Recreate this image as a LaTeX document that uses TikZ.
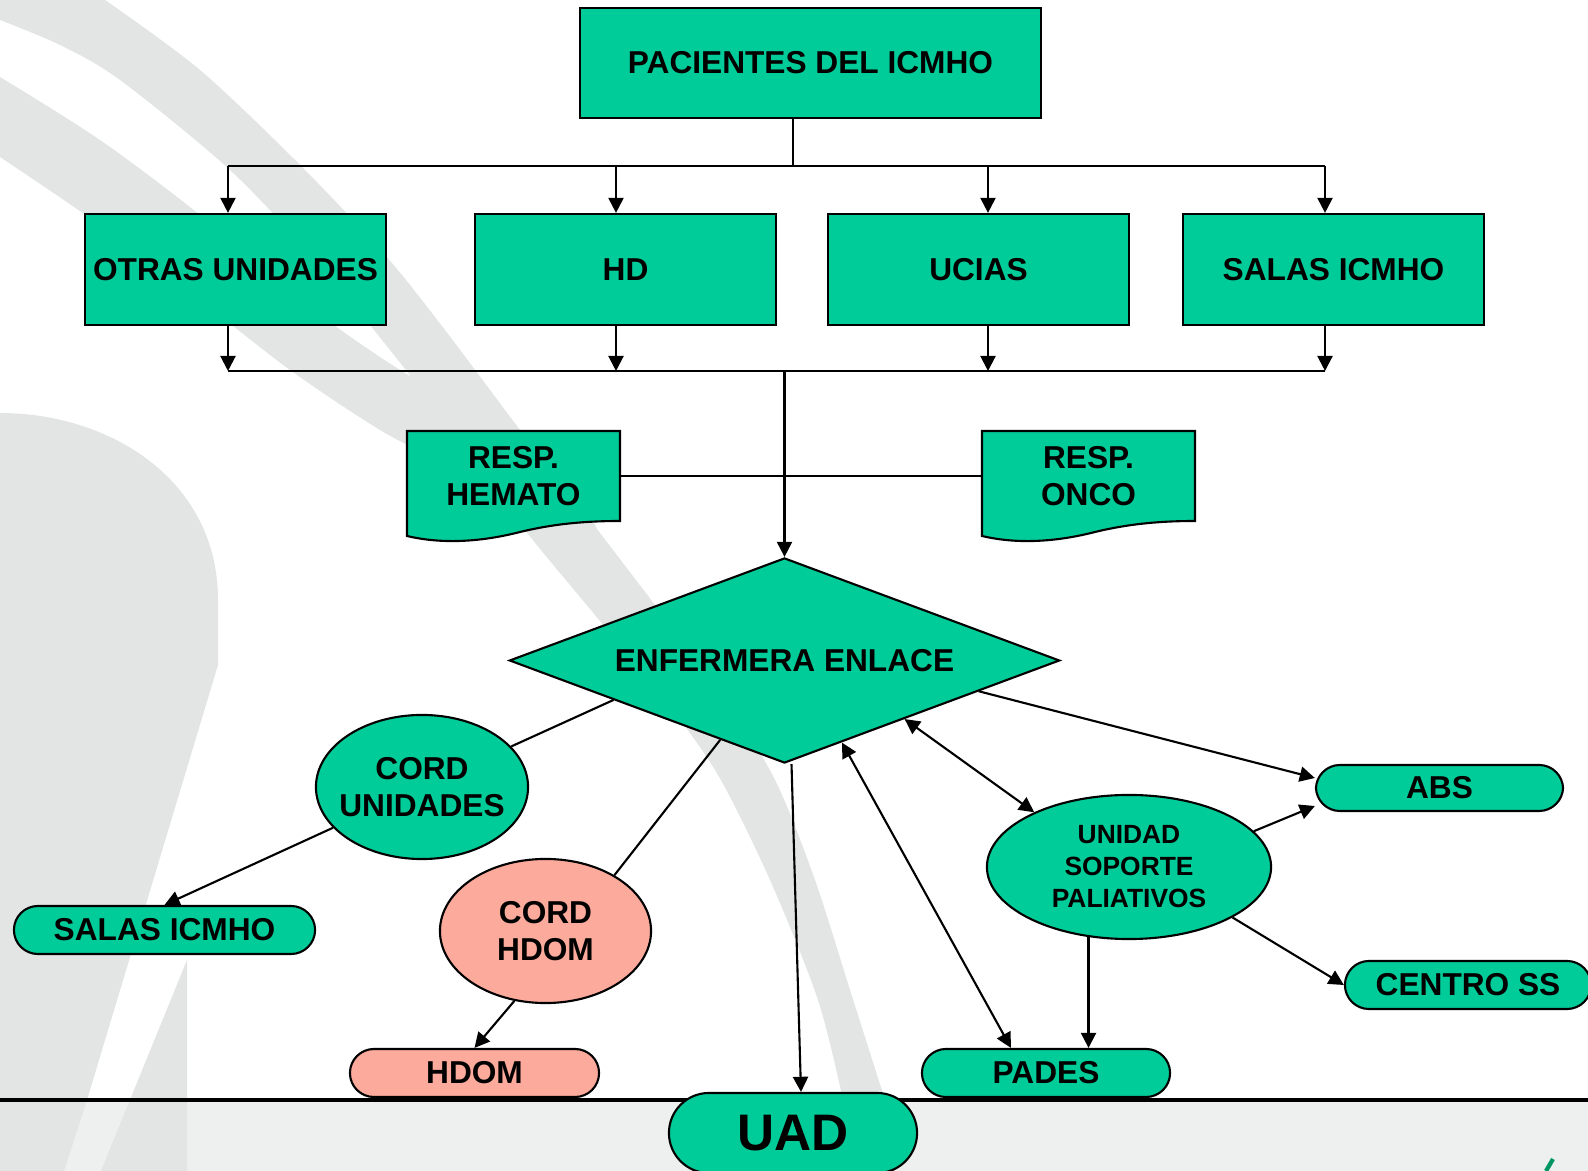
\documentclass[tikz,border=0pt]{standalone}
\usepackage{fontspec}
\setmainfont{Liberation Sans}
\usetikzlibrary{shapes.geometric,arrows.meta}

\definecolor{verde}{RGB}{0,204,153}
\definecolor{rosa}{RGB}{251,170,156}
\definecolor{gris}{RGB}{227,229,228}
\definecolor{franja}{RGB}{238,240,239}
\definecolor{logo}{RGB}{0,150,100}

\tikzset{
  letra/.style={font=\bfseries\fontsize{9}{10.7}\selectfont, align=center, inner sep=0pt},
  caja/.style={letra, draw, fill=verde, line width=0.6pt, minimum width=3.01cm, minimum height=1.11cm},
  pastilla/.style={letra, draw, fill=verde, line width=0.6pt, rounded corners=0.24cm, minimum height=0.48cm},
  elipse/.style={ellipse, draw, fill=verde, line width=0.6pt, inner sep=0pt, minimum height=1.44cm},
  linea/.style={line width=0.6pt},
  flecha/.style={linea, -{Triangle[length=4.3pt,width=4.3pt]}},
  doble/.style={linea, {Triangle[length=4.3pt,width=4.3pt]}-{Triangle[length=4.3pt,width=4.3pt]}},
}

\begin{document}
\begin{tikzpicture}[x=0.01cm, y=-0.01cm]
  \useasboundingbox (0,0) rectangle (1588,1171);
  \clip (0,0) rectangle (1588,1171);

  % Fondo
  \fill[white] (0,0) rectangle (1588,1171);
  \fill[franja] (0,1100) rectangle (1588,1171);
  \fill[gris] (0,0) -- plot[smooth] coordinates {(105,0) (200,70) (300,165) (385,255) (445,330) (520,430) (590,520) (655,605) (720,690) (775,780) (815,880) (850,990) (885,1100)}
    -- plot[smooth] coordinates {(843,1100) (818,1000) (770,880) (718,775) (665,700) (595,615) (525,530) (460,440) (390,350) (320,265) (230,170) (120,80) (60,45) (0,20)} -- cycle;
  \fill[gris] plot[smooth] coordinates {(0,77) (100,140) (200,215) (300,300) (400,370) (500,425) (580,500) (610,560)}
    -- plot[smooth] coordinates {(560,560) (470,480) (380,430) (290,370) (200,300) (100,225) (0,157)} -- cycle;
  \fill[gris] (0,413) .. controls (110,413) and (218,480) .. (218,600) -- (218,665) -- (87,1100) -- (64,1171) -- (0,1171) -- cycle;
  \fill[gris] (187,960) -- (187,1171) -- (101,1171) -- cycle;
  \draw[logo, line width=1.2pt] (1546,1171) -- (1553,1159);

  % Caja principal
  \node[caja, minimum width=4.61cm, minimum height=1.105cm] (pac) at (810.5,63) {PACIENTES DEL ICMHO};

  % Unidades
  \node[caja] (otras) at (235.5,269.5) {OTRAS UNIDADES};
  \node[caja] (hd) at (625.5,269.5) {HD};
  \node[caja] (ucias) at (978.5,269.5) {UCIAS};
  \node[caja] (salasa) at (1333.5,269.5) {SALAS ICMHO};

  % Ramas
  \coordinate (busa) at (793,166);
  \coordinate (busb) at (786,371);
  \draw[linea] (pac.south -| busa) -- (busa);
  \draw[linea] (228,166) -- (1325,166);
  \draw[linea] (228,371) -- (1325,371);
  \foreach \n/\x in {otras/228, hd/616, ucias/988, salasa/1325}{
    \draw[flecha] (\x,166) -- (\n.north -| \x,0);
    \draw[flecha] (\n.south -| \x,0) -- (\x,371);
  }

  % Enfermera enlace
  \node[diamond, draw, fill=verde, linea, aspect=2.68, minimum width=5.5cm, minimum height=2.05cm, letra] (enf) at (784.5,660.5) {ENFERMERA ENLACE};
  \draw[flecha] (enf.north |- busb) -- (enf.north);

  % Responsables
  \foreach \dx in {0,575}{
    \draw[linea, fill=verde, shift={(\dx,0)}] (407,431) -- (620,431) -- (620,521)
      .. controls (575,521) and (545,526) .. (520,532)
      .. controls (485,541) and (445,545) .. (407,536) -- cycle;
  }
  \node[letra, minimum width=2.13cm, minimum height=0.9cm] (hem) at (513.5,476) {RESP.\\HEMATO};
  \node[letra, minimum width=2.13cm, minimum height=0.9cm] (onc) at (1088.5,476) {RESP.\\ONCO};
  \draw[linea] (hem.east) -- (onc.west);

  % Coordinaciones
  \node[elipse, minimum width=2.12cm] (cordu) at (422,787) {};
  \node[letra] (cordu-t) at (cordu) {CORD\\UNIDADES};
  \node[elipse, fill=rosa, minimum width=2.11cm] (cordh) at (545.5,931) {};
  \node[letra] (cordh-t) at (cordh) {CORD\\HDOM};
  \node[elipse, minimum width=2.84cm] (usp) at (1129,867) {};
  \node[letra, font=\bfseries\fontsize{7.5}{9.1}\selectfont] (usp-t) at (usp) {UNIDAD\\SOPORTE\\PALIATIVOS};

  % Destinos
  \node[pastilla, minimum width=3.01cm] (salasb) at (164.5,930) {SALAS ICMHO};
  \node[pastilla, fill=rosa, minimum width=2.49cm] (hdom) at (474.5,1073) {HDOM};
  \node[pastilla, minimum width=2.48cm] (pades) at (1046,1073) {PADES};
  \node[pastilla, minimum width=2.47cm, minimum height=0.46cm] (abs) at (1439.5,788) {ABS};
  \node[pastilla, minimum width=2.46cm] (centro) at (1468,985) {CENTRO SS};

  % Franja inferior
  \draw[line width=1pt] (0,1100) -- (1588,1100);
  \node[pastilla, rounded corners=0.4cm, minimum width=2.48cm, minimum height=0.8cm, font=\bfseries\fontsize{14.6}{17}\selectfont] (uad) at (793,1133) {UAD};

  % Conexiones
  \draw[linea] (enf.193) -- (cordu);
  \draw[flecha] (cordu) -- (salasb.north);
  \draw[linea] (enf.231) -- (cordh.39);
  \draw[flecha] (cordh.246) -- (hdom.north);
  \draw[flecha] ([xshift=0.07cm]enf.south) -- ([xshift=0.08cm]uad.north);
  \draw[flecha] (enf.351) -- ([yshift=0.1cm]abs.west);
  \draw[doble] (enf.334) -- (usp.150);
  \draw[doble] (enf.305) -- ([xshift=-0.35cm]pades.north);
  \draw[flecha] (usp.16) -- ([yshift=-0.18cm]abs.west);
  \draw[flecha] (usp.334) -- (centro.west);
  \draw[flecha] (usp.240) -- (usp.240 |- pades.north);
\end{tikzpicture}
\end{document}
